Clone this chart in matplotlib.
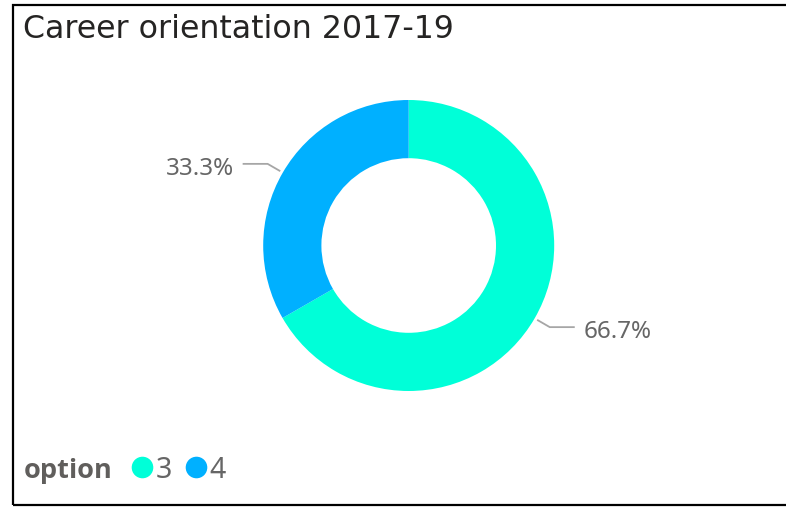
import matplotlib
matplotlib.use("Agg")
import matplotlib.pyplot as plt
import numpy as np
from matplotlib.patches import Rectangle, Circle

# ---- data ----
title = "Career orientation 2017-19"
legend_title = "option"
categories = ["3", "4"]
values = [66.7, 33.3]
colors = ["#00FFD8", "#00B0FF"]

W, H = 786, 507
fig = plt.figure(figsize=(W / 100, H / 100), dpi=100)
ax = fig.add_axes([0, 0, 1, 1])
ax.set_xlim(0, W)
ax.set_ylim(0, H)
ax.set_aspect("equal")
ax.axis("off")

cx, cy, R = 408.7, H - 245.5, 145.5
wedges, _ = ax.pie(values, colors=colors, startangle=90, counterclock=False,
                   radius=R, center=(cx, cy),
                   wedgeprops=dict(width=R * 0.4, linewidth=0))
ax.set_xlim(0, W)
ax.set_ylim(0, H)

# leader lines and labels
line_col = "#A6A6A6"
txt_col = "#666666"
for w, v in zip(wedges, values):
    mid = np.deg2rad((w.theta1 + w.theta2) / 2)
    x0, y0 = cx + R * 1.02 * np.cos(mid), cy + R * 1.02 * np.sin(mid)
    x1, y1 = cx + R * 1.12 * np.cos(mid), cy + R * 1.12 * np.sin(mid)
    side = 1 if np.cos(mid) > 0 else -1
    x2 = x1 + side * 25
    ax.plot([x0, x1, x2], [y0, y1, y1], color=line_col, lw=1.3,
            solid_capstyle="butt")
    ax.text(x2 + side * 9, y1 - 2, f"{v:.1f}%", ha="left" if side > 0 else "right",
            va="center_baseline", fontsize=17.4, color=txt_col, family="Noto Sans")

# title
ax.text(23, H - 29.5, title, ha="left", va="center", fontsize=22.8,
        color="#252423", family="DejaVu Sans")

# legend
ly = H - 467.5
ax.text(24, ly, legend_title, ha="left", va="center_baseline", fontsize=19.5,
        fontweight="bold", color="#605E5C", family="Open Sans")
lx = [142.5, 196.5]
for x, c, lab in zip(lx, colors, categories):
    ax.add_patch(Circle((x, ly), 10.8, color=c, lw=0))
    ax.text(x + 13, ly, lab, ha="left", va="center_baseline", fontsize=20.5,
            color=txt_col, family="Noto Sans")

# frame
ax.add_patch(Rectangle((12.5, H - 504.5), 800, 500, fill=False,
                       edgecolor="black", lw=1.6, clip_on=False))

fig.savefig("out.png", dpi=100)
